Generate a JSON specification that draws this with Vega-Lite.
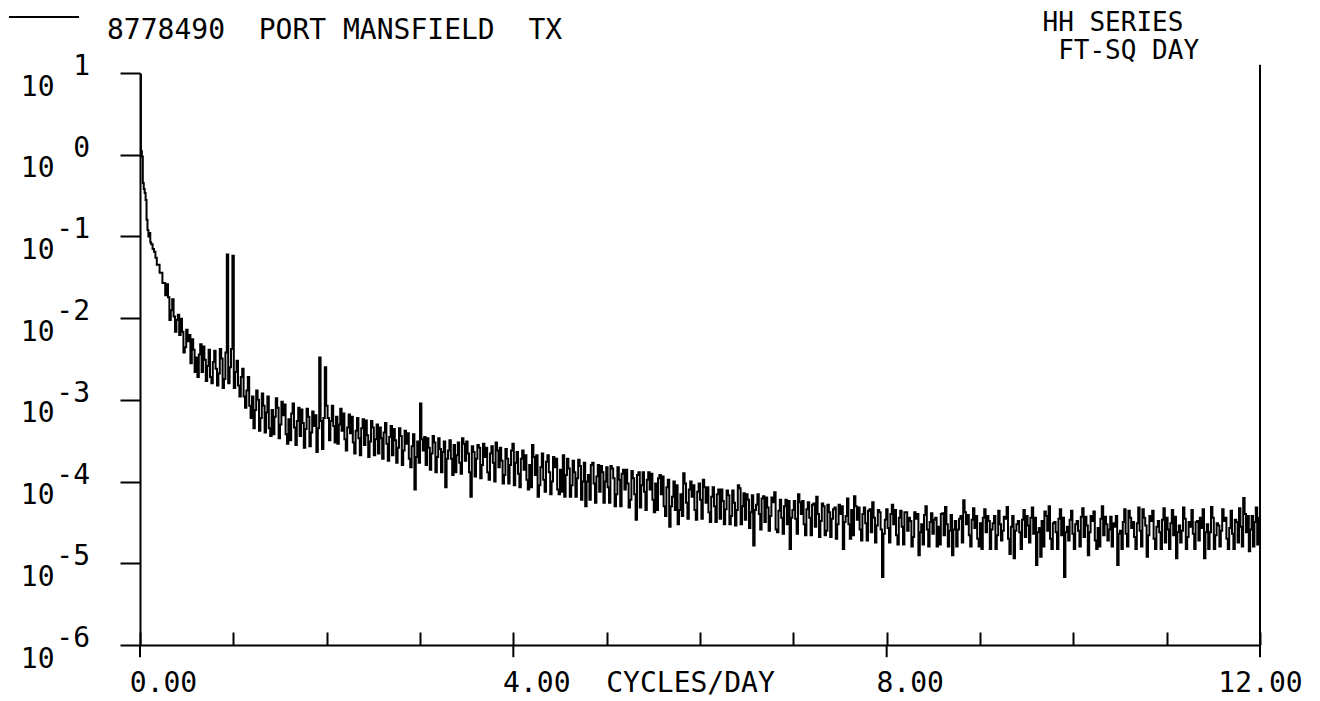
{
"$schema": "https://vega.github.io/schema/vega-lite/v6.json",
"width": 1120, "height": 572,
"autosize": {"type": "none"},
"padding": {"left": 140, "top": 73, "right": 60, "bottom": 56},
"background": "white",
"config": {"view": {"stroke": null}, "font": "DejaVu Sans Mono",
 "legend": {"symbolSize": 4900, "symbolStrokeWidth": 2, "symbolType": "stroke"}},
"datasets": {
"spec": [
{"f":0,"p":9.5},{"f":0.01,"p":1.1},{"f":0.02,"p":0.95},{"f":0.03,"p":0.45},{"f":0.04,"p":0.38},{"f":0.05,"p":0.34},{"f":0.06,"p":0.28},{"f":0.07,"p":0.16},{"f":0.08,"p":0.12},{"f":0.09,"p":0.1},{"f":0.1,"p":0.11},{"f":0.11,"p":0.085},{"f":0.12,"p":0.08},{"f":0.135,"p":0.07},{"f":0.15,"p":0.065},{"f":0.165,"p":0.055},{"f":0.18,"p":0.045},{"f":0.21,"p":0.036},{"f":0.24,"p":0.027},
{"f":0.27,"p":0.019},{"f":0.285,"p":0.026},{"f":0.3,"p":0.018},{"f":0.315,"p":0.0095},{"f":0.33,"p":0.0125},{"f":0.345,"p":0.017},{"f":0.36,"p":0.0105},{"f":0.375,"p":0.0068},{"f":0.39,"p":0.0095},{"f":0.405,"p":0.011},{"f":0.42,"p":0.0062},{"f":0.435,"p":0.0098},{"f":0.45,"p":0.0068},{"f":0.465,"p":0.0038},{"f":0.48,"p":0.0044},{"f":0.495,"p":0.0072},{"f":0.51,"p":0.0052},{"f":0.525,"p":0.0062},{"f":0.54,"p":0.0028},{"f":0.555,"p":0.0055},{"f":0.57,"p":0.0041},{"f":0.585,"p":0.0022},{"f":0.6,"p":0.0033},{"f":0.615,"p":0.0019},{"f":0.63,"p":0.0036},{"f":0.645,"p":0.0048},{"f":0.66,"p":0.0022},{"f":0.675,"p":0.0045},{"f":0.69,"p":0.0031},{"f":0.705,"p":0.0017},{"f":0.72,"p":0.0026},{"f":0.735,"p":0.0041},{"f":0.75,"p":0.0019},{"f":0.765,"p":0.0016},{"f":0.78,"p":0.0029},{"f":0.795,"p":0.004},{"f":0.81,"p":0.0024},{"f":0.825,"p":0.0015},{"f":0.84,"p":0.0021},{"f":0.855,"p":0.0042},{"f":0.87,"p":0.0032},{"f":0.885,"p":0.0014},{"f":0.9,"p":0.0018},{"f":0.915,"p":0.0038},{"f":0.93,"p":0.06},{"f":0.945,"p":0.0016},{"f":0.96,"p":0.0025},{"f":0.975,"p":0.0042},{"f":0.99,"p":0.058},{"f":1.005,"p":0.0014},{"f":1.02,"p":0.0022},{"f":1.035,"p":0.003},{"f":1.05,"p":0.0015},{"f":1.065,"p":0.0011},{"f":1.08,"p":0.0019},{"f":1.095,"p":0.0024},{"f":1.11,"p":0.0011},{"f":1.125,"p":8e-4},{"f":1.14,"p":0.0013},{"f":1.155,"p":0.0019},{"f":1.17,"p":8.5e-4},{"f":1.185,"p":6e-4},
{"f":1.2,"p":1.1e-3},{"f":1.215,"p":4.5e-4},{"f":1.23,"p":7.5e-4},{"f":1.245,"p":1.3e-3},{"f":1.26,"p":1.0e-3},{"f":1.275,"p":4.2e-4},{"f":1.29,"p":6.0e-4},{"f":1.305,"p":1.2e-3},{"f":1.32,"p":8.5e-4},{"f":1.335,"p":4.0e-4},{"f":1.35,"p":7.0e-4},{"f":1.365,"p":1.1e-3},{"f":1.38,"p":4.5e-4},{"f":1.395,"p":3.6e-4},{"f":1.41,"p":7.5e-4},{"f":1.425,"p":3.8e-4},{"f":1.44,"p":6.2e-4},{"f":1.455,"p":1.05e-3},{"f":1.47,"p":8.0e-4},{"f":1.485,"p":3.4e-4},{"f":1.5,"p":5.0e-4},{"f":1.515,"p":9.5e-4},{"f":1.53,"p":6.5e-4},{"f":1.545,"p":8.8e-4},{"f":1.56,"p":3.8e-4},{"f":1.575,"p":2.9e-4},{"f":1.59,"p":5.8e-4},{"f":1.605,"p":3.2e-4},{"f":1.62,"p":6.8e-4},{"f":1.635,"p":9.0e-4},{"f":1.65,"p":4.6e-4},{"f":1.665,"p":2.8e-4},{"f":1.68,"p":5.5e-4},{"f":1.695,"p":8.0e-4},{"f":1.71,"p":3.6e-4},{"f":1.725,"p":7.6e-4},{"f":1.74,"p":5.2e-4},{"f":1.755,"p":2.6e-4},{"f":1.77,"p":4.4e-4},{"f":1.785,"p":7.8e-4},{"f":1.8,"p":6.2e-4},{"f":1.815,"p":2.7e-4},{"f":1.83,"p":4.0e-4},{"f":1.845,"p":7.2e-4},{"f":1.86,"p":4.8e-4},{"f":1.875,"p":6.5e-4},{"f":1.89,"p":2.3e-4},{"f":1.905,"p":4.5e-4},{"f":1.92,"p":3.3e-3},{"f":1.935,"p":5.5e-4},{"f":1.95,"p":2.5e-4},{"f":1.965,"p":6.0e-4},{"f":1.98,"p":2.5e-3},{"f":1.995,"p":8.5e-4},
{"f":2.01,"p":6.0e-4},{"f":2.025,"p":3.2e-4},{"f":2.04,"p":5.5e-4},{"f":2.055,"p":8.5e-4},{"f":2.07,"p":4.8e-4},{"f":2.085,"p":3.0e-4},{"f":2.1,"p":6.2e-4},{"f":2.115,"p":2.9e-4},{"f":2.13,"p":5.0e-4},{"f":2.145,"p":7.8e-4},{"f":2.16,"p":4.2e-4},{"f":2.175,"p":6.8e-4},{"f":2.19,"p":3.3e-4},{"f":2.205,"p":2.4e-4},{"f":2.22,"p":4.6e-4},{"f":2.235,"p":6.6e-4},{"f":2.25,"p":3.9e-4},{"f":2.265,"p":6.2e-4},{"f":2.28,"p":3.0e-4},{"f":2.295,"p":2.2e-4},{"f":2.31,"p":4.2e-4},{"f":2.325,"p":6.0e-4},{"f":2.34,"p":3.4e-4},{"f":2.355,"p":2.1e-4},{"f":2.37,"p":4.5e-4},{"f":2.385,"p":5.8e-4},{"f":2.4,"p":2.8e-4},{"f":2.415,"p":5.6e-4},{"f":2.43,"p":3.7e-4},{"f":2.445,"p":2.0e-4},{"f":2.46,"p":3.1e-4},{"f":2.475,"p":5.5e-4},{"f":2.49,"p":4.6e-4},{"f":2.505,"p":2.1e-4},{"f":2.52,"p":3.3e-4},{"f":2.535,"p":5.0e-4},{"f":2.55,"p":2.2e-4},{"f":2.565,"p":4.6e-4},{"f":2.58,"p":3.4e-4},{"f":2.595,"p":1.9e-4},{"f":2.61,"p":4.0e-4},{"f":2.625,"p":5.2e-4},{"f":2.64,"p":2.9e-4},{"f":2.655,"p":1.8e-4},{"f":2.67,"p":3.5e-4},{"f":2.685,"p":4.8e-4},{"f":2.7,"p":2.1e-4},{"f":2.715,"p":4.4e-4},{"f":2.73,"p":3.2e-4},{"f":2.745,"p":1.7e-4},{"f":2.76,"p":2.6e-4},{"f":2.775,"p":4.5e-4},{"f":2.79,"p":3.6e-4},{"f":2.805,"p":1.6e-4},{"f":2.82,"p":2.4e-4},{"f":2.835,"p":4.2e-4},{"f":2.85,"p":2.9e-4},{"f":2.865,"p":3.9e-4},{"f":2.88,"p":1.9e-4},{"f":2.895,"p":1.5e-4},{"f":2.91,"p":2.7e-4},{"f":2.925,"p":3.8e-4},{"f":2.94,"p":8.0e-5},{"f":2.955,"p":2.0e-4},{"f":2.97,"p":3.1e-4},{"f":2.985,"p":1.7e-4},
{"f":3.0,"p":9.0e-4},{"f":3.015,"p":3.3e-4},{"f":3.03,"p":2.4e-4},{"f":3.045,"p":3.5e-4},{"f":3.06,"p":1.6e-4},{"f":3.075,"p":3.4e-4},{"f":3.09,"p":2.6e-4},{"f":3.105,"p":1.4e-4},{"f":3.12,"p":2.2e-4},{"f":3.135,"p":3.6e-4},{"f":3.15,"p":3.0e-4},{"f":3.165,"p":1.3e-4},{"f":3.18,"p":2.0e-4},{"f":3.195,"p":3.4e-4},{"f":3.21,"p":2.5e-4},{"f":3.225,"p":1.3e-4},{"f":3.24,"p":2.3e-4},{"f":3.255,"p":3.1e-4},{"f":3.27,"p":8.5e-5},{"f":3.285,"p":1.9e-4},{"f":3.3,"p":2.4e-4},{"f":3.315,"p":3.2e-4},{"f":3.33,"p":1.9e-4},{"f":3.345,"p":1.2e-4},{"f":3.36,"p":2.8e-4},{"f":3.375,"p":1.3e-4},{"f":3.39,"p":2.1e-4},{"f":3.405,"p":3.0e-4},{"f":3.42,"p":1.7e-4},{"f":3.435,"p":1.25e-4},{"f":3.45,"p":3.4e-4},{"f":3.465,"p":2.9e-4},{"f":3.48,"p":1.8e-4},{"f":3.495,"p":3.1e-4},{"f":3.51,"p":2.2e-4},{"f":3.525,"p":1.3e-4},{"f":3.54,"p":6.5e-5},{"f":3.555,"p":2.7e-4},{"f":3.57,"p":2.3e-4},{"f":3.585,"p":1.15e-4},{"f":3.6,"p":1.9e-4},{"f":3.615,"p":2.8e-4},{"f":3.63,"p":2.6e-4},{"f":3.645,"p":1.1e-4},{"f":3.66,"p":1.6e-4},{"f":3.675,"p":2.9e-4},{"f":3.69,"p":2.0e-4},{"f":3.705,"p":2.6e-4},{"f":3.72,"p":1.3e-4},{"f":3.735,"p":1.05e-4},{"f":3.75,"p":2.2e-4},{"f":3.765,"p":2.7e-4},{"f":3.78,"p":1.7e-4},{"f":3.795,"p":1.0e-4},{"f":3.81,"p":3.0e-4},{"f":3.825,"p":2.4e-4},{"f":3.84,"p":1.5e-4},{"f":3.855,"p":2.6e-4},{"f":3.87,"p":1.8e-4},{"f":3.885,"p":9.5e-5},{"f":3.9,"p":1.2e-4},{"f":3.915,"p":2.5e-4},{"f":3.93,"p":1.9e-4},{"f":3.945,"p":9.5e-5},{"f":3.96,"p":1.6e-4},{"f":3.975,"p":2.4e-4},{"f":3.99,"p":2.9e-4},{"f":4.005,"p":9.0e-5},
{"f":4.02,"p":1.7e-4},{"f":4.035,"p":2.3e-4},{"f":4.05,"p":1.25e-4},{"f":4.065,"p":8.5e-5},{"f":4.08,"p":1.9e-4},{"f":4.095,"p":2.4e-4},{"f":4.11,"p":1.4e-4},{"f":4.125,"p":2.1e-4},{"f":4.14,"p":1.05e-4},{"f":4.155,"p":8.0e-5},{"f":4.17,"p":1.6e-4},{"f":4.185,"p":8.5e-5},{"f":4.2,"p":2.8e-4},{"f":4.215,"p":2.0e-4},{"f":4.23,"p":1.2e-4},{"f":4.245,"p":2.1e-4},{"f":4.26,"p":6.5e-5},{"f":4.275,"p":9.0e-5},{"f":4.29,"p":1.5e-4},{"f":4.305,"p":2.2e-4},{"f":4.32,"p":1.05e-4},{"f":4.335,"p":7.5e-5},{"f":4.35,"p":1.75e-4},{"f":4.365,"p":2.1e-4},{"f":4.38,"p":1.3e-4},{"f":4.395,"p":7.0e-5},{"f":4.41,"p":1.0e-4},{"f":4.425,"p":2.0e-4},{"f":4.44,"p":1.5e-4},{"f":4.455,"p":1.9e-4},{"f":4.47,"p":8.0e-5},{"f":4.485,"p":7.0e-5},{"f":4.5,"p":1.4e-4},{"f":4.515,"p":7.5e-5},{"f":4.53,"p":2.1e-4},{"f":4.545,"p":6.5e-5},{"f":4.56,"p":1.2e-4},{"f":4.575,"p":1.9e-4},{"f":4.59,"p":1.45e-4},{"f":4.605,"p":6.5e-5},{"f":4.62,"p":9.0e-5},{"f":4.635,"p":1.8e-4},{"f":4.65,"p":1.3e-4},{"f":4.665,"p":6.5e-5},{"f":4.68,"p":1.1e-4},{"f":4.695,"p":1.85e-4},{"f":4.71,"p":1.55e-4},{"f":4.725,"p":6.0e-5},{"f":4.74,"p":1.0e-4},{"f":4.755,"p":1.7e-4},{"f":4.77,"p":5.0e-5},{"f":4.785,"p":1.0e-4},{"f":4.8,"p":1.2e-4},{"f":4.815,"p":6.0e-5},{"f":4.83,"p":1.6e-4},{"f":4.845,"p":1.7e-4},{"f":4.86,"p":9.5e-5},{"f":4.875,"p":5.5e-5},{"f":4.89,"p":1.15e-4},{"f":4.905,"p":1.6e-4},{"f":4.92,"p":7.5e-5},{"f":4.935,"p":1.55e-4},{"f":4.95,"p":1.3e-4},{"f":4.965,"p":5.5e-5},{"f":4.98,"p":1.0e-4},{"f":4.995,"p":1.5e-4},
{"f":5.01,"p":8.5e-5},{"f":5.025,"p":5.5e-5},{"f":5.04,"p":1.55e-4},{"f":5.055,"p":1.45e-4},{"f":5.07,"p":1.1e-4},{"f":5.085,"p":5.0e-5},{"f":5.1,"p":7.0e-5},{"f":5.115,"p":1.5e-4},{"f":5.13,"p":1.05e-4},{"f":5.145,"p":5.0e-5},{"f":5.16,"p":1.25e-4},{"f":5.175,"p":1.4e-4},{"f":5.19,"p":8.0e-5},{"f":5.205,"p":1.4e-4},{"f":5.22,"p":9.5e-5},{"f":5.235,"p":4.8e-5},{"f":5.25,"p":6.0e-5},{"f":5.265,"p":1.35e-4},{"f":5.28,"p":1.1e-4},{"f":5.295,"p":7.0e-5},{"f":5.31,"p":3.4e-5},{"f":5.325,"p":1.2e-4},{"f":5.34,"p":1.3e-4},{"f":5.355,"p":4.8e-5},{"f":5.37,"p":9.0e-5},{"f":5.385,"p":1.3e-4},{"f":5.4,"p":7.5e-5},{"f":5.415,"p":4.5e-5},{"f":5.43,"p":1.05e-4},{"f":5.445,"p":1.3e-4},{"f":5.46,"p":8.0e-5},{"f":5.475,"p":1.25e-4},{"f":5.49,"p":6.0e-5},{"f":5.505,"p":4.2e-5},{"f":5.52,"p":9.5e-5},{"f":5.535,"p":4.5e-5},{"f":5.55,"p":1.1e-4},{"f":5.565,"p":1.2e-4},{"f":5.58,"p":7.0e-5},{"f":5.595,"p":1.15e-4},{"f":5.61,"p":5.0e-5},{"f":5.625,"p":3.8e-5},{"f":5.64,"p":8.5e-5},{"f":5.655,"p":1.05e-4},{"f":5.67,"p":2.8e-5},{"f":5.685,"p":5.0e-5},{"f":5.7,"p":6.5e-5},{"f":5.715,"p":1.0e-4},{"f":5.73,"p":4.5e-5},{"f":5.745,"p":9.0e-5},{"f":5.76,"p":3.0e-5},{"f":5.775,"p":4.5e-5},{"f":5.79,"p":7.0e-5},{"f":5.805,"p":3.8e-5},{"f":5.82,"p":1.26e-4},{"f":5.835,"p":9.5e-5},{"f":5.85,"p":5.5e-5},{"f":5.865,"p":3.5e-5},{"f":5.88,"p":8.0e-5},{"f":5.895,"p":1.0e-4},{"f":5.91,"p":6.5e-5},{"f":5.925,"p":9.0e-5},{"f":5.94,"p":4.5e-5},{"f":5.955,"p":3.4e-5},{"f":5.97,"p":7.5e-5},{"f":5.985,"p":9.5e-5},
{"f":6.0,"p":6.0e-5},{"f":6.015,"p":3.5e-5},{"f":6.03,"p":1.05e-4},{"f":6.045,"p":8.5e-5},{"f":6.06,"p":5.5e-5},{"f":6.075,"p":8.5e-5},{"f":6.09,"p":4.2e-5},{"f":6.105,"p":3.2e-5},{"f":6.12,"p":6.5e-5},{"f":6.135,"p":8.5e-5},{"f":6.15,"p":5.0e-5},{"f":6.165,"p":3.2e-5},{"f":6.18,"p":7.0e-5},{"f":6.195,"p":8.0e-5},{"f":6.21,"p":3.5e-5},{"f":6.225,"p":8.0e-5},{"f":6.24,"p":5.8e-5},{"f":6.255,"p":3.0e-5},{"f":6.27,"p":4.6e-5},{"f":6.285,"p":7.8e-5},{"f":6.3,"p":6.8e-5},{"f":6.315,"p":3.0e-5},{"f":6.33,"p":3.8e-5},{"f":6.345,"p":7.8e-5},{"f":6.36,"p":5.5e-5},{"f":6.375,"p":2.9e-5},{"f":6.39,"p":4.5e-5},{"f":6.405,"p":9.0e-5},{"f":6.42,"p":8.3e-5},{"f":6.435,"p":3.0e-5},{"f":6.45,"p":5.0e-5},{"f":6.465,"p":7.2e-5},{"f":6.48,"p":3.4e-5},{"f":6.495,"p":7.0e-5},{"f":6.51,"p":6.0e-5},{"f":6.525,"p":2.7e-5},{"f":6.54,"p":4.2e-5},{"f":6.555,"p":6.8e-5},{"f":6.57,"p":1.65e-5},{"f":6.585,"p":4.5e-5},{"f":6.6,"p":5.2e-5},{"f":6.615,"p":7.0e-5},{"f":6.63,"p":4.0e-5},{"f":6.645,"p":2.6e-5},{"f":6.66,"p":6.2e-5},{"f":6.675,"p":6.6e-5},{"f":6.69,"p":3.2e-5},{"f":6.705,"p":6.4e-5},{"f":6.72,"p":4.8e-5},{"f":6.735,"p":2.5e-5},{"f":6.75,"p":3.8e-5},{"f":6.765,"p":6.4e-5},{"f":6.78,"p":5.6e-5},{"f":6.795,"p":7.4e-5},{"f":6.81,"p":2.6e-5},{"f":6.825,"p":2.4e-5},{"f":6.84,"p":4.4e-5},{"f":6.855,"p":6.0e-5},{"f":6.87,"p":3.6e-5},{"f":6.885,"p":2.3e-5},{"f":6.9,"p":5.0e-5},{"f":6.915,"p":6.0e-5},{"f":6.93,"p":3.0e-5},{"f":6.945,"p":5.8e-5},{"f":6.96,"p":1.5e-5},{"f":6.975,"p":3.6e-5},{"f":6.99,"p":4.5e-5},{"f":7.005,"p":5.8e-5},
{"f":7.02,"p":3.5e-5},{"f":7.035,"p":2.3e-5},{"f":7.05,"p":7.0e-5},{"f":7.065,"p":5.6e-5},{"f":7.08,"p":4.0e-5},{"f":7.095,"p":5.8e-5},{"f":7.11,"p":3.0e-5},{"f":7.125,"p":2.2e-5},{"f":7.14,"p":4.6e-5},{"f":7.155,"p":5.6e-5},{"f":7.17,"p":3.6e-5},{"f":7.185,"p":2.2e-5},{"f":7.2,"p":5.2e-5},{"f":7.215,"p":5.4e-5},{"f":7.23,"p":2.8e-5},{"f":7.245,"p":6.5e-5},{"f":7.26,"p":4.0e-5},{"f":7.275,"p":2.1e-5},{"f":7.29,"p":3.3e-5},{"f":7.305,"p":5.4e-5},{"f":7.32,"p":5.0e-5},{"f":7.335,"p":2.2e-5},{"f":7.35,"p":2.5e-5},{"f":7.365,"p":5.2e-5},{"f":7.38,"p":4.2e-5},{"f":7.395,"p":2.1e-5},{"f":7.41,"p":3.5e-5},{"f":7.425,"p":4.6e-5},{"f":7.44,"p":4.8e-5},{"f":7.455,"p":2.0e-5},{"f":7.47,"p":3.0e-5},{"f":7.485,"p":5.2e-5},{"f":7.5,"p":4.0e-5},{"f":7.515,"p":5.0e-5},{"f":7.53,"p":1.5e-5},{"f":7.545,"p":3.2e-5},{"f":7.56,"p":3.8e-5},{"f":7.575,"p":6.2e-5},{"f":7.59,"p":3.0e-5},{"f":7.605,"p":2.0e-5},{"f":7.62,"p":4.5e-5},{"f":7.635,"p":2.2e-5},{"f":7.65,"p":6.6e-5},{"f":7.665,"p":5.0e-5},{"f":7.68,"p":3.4e-5},{"f":7.695,"p":4.8e-5},{"f":7.71,"p":2.6e-5},{"f":7.725,"p":1.9e-5},{"f":7.74,"p":4.0e-5},{"f":7.755,"p":4.8e-5},{"f":7.77,"p":3.1e-5},{"f":7.785,"p":1.9e-5},{"f":7.8,"p":4.4e-5},{"f":7.815,"p":4.6e-5},{"f":7.83,"p":2.4e-5},{"f":7.845,"p":5.6e-5},{"f":7.86,"p":3.6e-5},{"f":7.875,"p":1.8e-5},{"f":7.89,"p":2.9e-5},{"f":7.905,"p":4.5e-5},{"f":7.92,"p":4.2e-5},{"f":7.935,"p":2.6e-5},{"f":7.95,"p":6.8e-6},{"f":7.965,"p":2.3e-5},{"f":7.98,"p":3.4e-5},{"f":7.995,"p":4.6e-5},
{"f":8.01,"p":2.7e-5},{"f":8.025,"p":1.8e-5},{"f":8.04,"p":4.0e-5},{"f":8.055,"p":5.2e-5},{"f":8.07,"p":3.0e-5},{"f":8.085,"p":4.5e-5},{"f":8.1,"p":2.2e-5},{"f":8.115,"p":1.7e-5},{"f":8.13,"p":3.6e-5},{"f":8.145,"p":4.4e-5},{"f":8.16,"p":2.8e-5},{"f":8.175,"p":1.7e-5},{"f":8.19,"p":4.2e-5},{"f":8.205,"p":4.2e-5},{"f":8.22,"p":2.5e-5},{"f":8.235,"p":3.6e-5},{"f":8.25,"p":3.3e-5},{"f":8.265,"p":1.6e-5},{"f":8.28,"p":2.1e-5},{"f":8.295,"p":4.2e-5},{"f":8.31,"p":3.5e-5},{"f":8.325,"p":4.0e-5},{"f":8.34,"p":1.25e-5},{"f":8.355,"p":2.4e-5},{"f":8.37,"p":3.0e-5},{"f":8.385,"p":1.7e-5},{"f":8.4,"p":3.9e-5},{"f":8.415,"p":5.0e-5},{"f":8.43,"p":2.6e-5},{"f":8.445,"p":1.6e-5},{"f":8.46,"p":3.2e-5},{"f":8.475,"p":4.1e-5},{"f":8.49,"p":2.3e-5},{"f":8.505,"p":3.4e-5},{"f":8.52,"p":3.6e-5},{"f":8.535,"p":1.6e-5},{"f":8.55,"p":2.8e-5},{"f":8.565,"p":1.7e-5},{"f":8.58,"p":4.0e-5},{"f":8.595,"p":4.1e-5},{"f":8.61,"p":2.2e-5},{"f":8.625,"p":4.9e-5},{"f":8.64,"p":3.0e-5},{"f":8.655,"p":1.6e-5},{"f":8.67,"p":2.5e-5},{"f":8.685,"p":3.9e-5},{"f":8.7,"p":1.25e-5},{"f":8.715,"p":2.6e-5},{"f":8.73,"p":3.3e-5},{"f":8.745,"p":1.6e-5},{"f":8.76,"p":2.6e-5},{"f":8.775,"p":3.5e-5},{"f":8.79,"p":3.8e-5},{"f":8.805,"p":1.8e-5},{"f":8.82,"p":5.9e-5},{"f":8.835,"p":4.2e-5},{"f":8.85,"p":3.0e-5},{"f":8.865,"p":3.9e-5},{"f":8.88,"p":2.2e-5},{"f":8.895,"p":1.6e-5},{"f":8.91,"p":3.4e-5},{"f":8.925,"p":4.7e-5},{"f":8.94,"p":2.7e-5},{"f":8.955,"p":3.8e-5},{"f":8.97,"p":2.0e-5},{"f":8.985,"p":1.6e-5},
{"f":9.0,"p":3.1e-5},{"f":9.015,"p":1.5e-5},{"f":9.03,"p":3.6e-5},{"f":9.045,"p":4.6e-5},{"f":9.06,"p":2.4e-5},{"f":9.075,"p":3.8e-5},{"f":9.09,"p":3.3e-5},{"f":9.105,"p":1.5e-5},{"f":9.12,"p":2.6e-5},{"f":9.135,"p":3.1e-5},{"f":9.15,"p":3.8e-5},{"f":9.165,"p":1.5e-5},{"f":9.18,"p":2.2e-5},{"f":9.195,"p":4.4e-5},{"f":9.21,"p":3.0e-5},{"f":9.225,"p":1.9e-5},{"f":9.24,"p":2.5e-5},{"f":9.255,"p":3.7e-5},{"f":9.27,"p":3.5e-5},{"f":9.285,"p":4.9e-5},{"f":9.3,"p":2.0e-5},{"f":9.315,"p":1.3e-5},{"f":9.33,"p":2.8e-5},{"f":9.345,"p":3.8e-5},{"f":9.36,"p":1.15e-5},{"f":9.375,"p":2.5e-5},{"f":9.39,"p":3.0e-5},{"f":9.405,"p":3.3e-5},{"f":9.42,"p":2.4e-5},{"f":9.435,"p":1.5e-5},{"f":9.45,"p":3.4e-5},{"f":9.465,"p":4.5e-5},{"f":9.48,"p":2.1e-5},{"f":9.495,"p":3.8e-5},{"f":9.51,"p":2.9e-5},{"f":9.525,"p":1.8e-5},{"f":9.54,"p":3.6e-5},{"f":9.555,"p":4.8e-5},{"f":9.57,"p":2.3e-5},{"f":9.585,"p":3.6e-5},{"f":9.6,"p":9.5e-6},{"f":9.615,"p":2.4e-5},{"f":9.63,"p":2.7e-5},{"f":9.645,"p":1.2e-5},{"f":9.66,"p":3.3e-5},{"f":9.675,"p":1.6e-5},{"f":9.69,"p":4.3e-5},{"f":9.705,"p":3.8e-5},{"f":9.72,"p":2.5e-5},{"f":9.735,"p":5.0e-5},{"f":9.75,"p":2.0e-5},{"f":9.765,"p":1.5e-5},{"f":9.78,"p":3.1e-5},{"f":9.795,"p":3.2e-5},{"f":9.81,"p":2.4e-5},{"f":9.825,"p":1.5e-5},{"f":9.84,"p":3.5e-5},{"f":9.855,"p":4.6e-5},{"f":9.87,"p":2.2e-5},{"f":9.885,"p":3.6e-5},{"f":9.9,"p":6.8e-6},{"f":9.915,"p":2.4e-5},{"f":9.93,"p":2.8e-5},{"f":9.945,"p":1.9e-5},{"f":9.96,"p":3.4e-5},{"f":9.975,"p":4.4e-5},{"f":9.99,"p":2.3e-5},{"f":10.005,"p":1.5e-5},
{"f":10.02,"p":3.0e-5},{"f":10.035,"p":3.3e-5},{"f":10.05,"p":2.5e-5},{"f":10.065,"p":1.6e-5},{"f":10.08,"p":3.7e-5},{"f":10.095,"p":4.7e-5},{"f":10.11,"p":2.1e-5},{"f":10.125,"p":3.7e-5},{"f":10.14,"p":2.9e-5},{"f":10.155,"p":1.25e-5},{"f":10.17,"p":2.4e-5},{"f":10.185,"p":3.8e-5},{"f":10.2,"p":3.3e-5},{"f":10.215,"p":4.3e-5},{"f":10.23,"p":1.9e-5},{"f":10.245,"p":1.5e-5},{"f":10.26,"p":2.7e-5},{"f":10.275,"p":1.6e-5},{"f":10.29,"p":3.5e-5},{"f":10.305,"p":5.0e-5},{"f":10.32,"p":2.2e-5},{"f":10.335,"p":3.7e-5},{"f":10.35,"p":3.0e-5},{"f":10.365,"p":1.9e-5},{"f":10.38,"p":2.6e-5},{"f":10.395,"p":3.7e-5},{"f":10.41,"p":1.6e-5},{"f":10.425,"p":3.1e-5},{"f":10.44,"p":2.8e-5},{"f":10.455,"p":3.8e-5},{"f":10.47,"p":9.5e-6},{"f":10.485,"p":2.3e-5},{"f":10.5,"p":2.5e-5},{"f":10.515,"p":1.5e-5},{"f":10.53,"p":3.2e-5},{"f":10.545,"p":4.6e-5},{"f":10.56,"p":2.3e-5},{"f":10.575,"p":1.6e-5},{"f":10.59,"p":4.4e-5},{"f":10.605,"p":3.6e-5},{"f":10.62,"p":2.7e-5},{"f":10.635,"p":3.2e-5},{"f":10.65,"p":2.1e-5},{"f":10.665,"p":1.5e-5},{"f":10.68,"p":3.1e-5},{"f":10.695,"p":4.8e-5},{"f":10.71,"p":2.5e-5},{"f":10.725,"p":1.6e-5},{"f":10.74,"p":4.6e-5},{"f":10.755,"p":3.6e-5},{"f":10.77,"p":2.9e-5},{"f":10.785,"p":1.2e-5},{"f":10.8,"p":2.2e-5},{"f":10.815,"p":3.8e-5},{"f":10.83,"p":3.3e-5},{"f":10.845,"p":4.4e-5},{"f":10.86,"p":2.0e-5},{"f":10.875,"p":1.5e-5},{"f":10.89,"p":2.8e-5},{"f":10.905,"p":3.3e-5},{"f":10.92,"p":2.4e-5},{"f":10.935,"p":1.5e-5},{"f":10.95,"p":3.4e-5},{"f":10.965,"p":4.7e-5},{"f":10.98,"p":1.8e-5},{"f":10.995,"p":3.6e-5},
{"f":11.01,"p":2.6e-5},{"f":11.025,"p":1.5e-5},{"f":11.04,"p":3.1e-5},{"f":11.055,"p":4.5e-5},{"f":11.07,"p":2.2e-5},{"f":11.085,"p":3.7e-5},{"f":11.1,"p":1.15e-5},{"f":11.115,"p":2.4e-5},{"f":11.13,"p":2.9e-5},{"f":11.145,"p":1.8e-5},{"f":11.16,"p":2.5e-5},{"f":11.175,"p":4.8e-5},{"f":11.19,"p":3.5e-5},{"f":11.205,"p":1.5e-5},{"f":11.22,"p":2.1e-5},{"f":11.235,"p":3.2e-5},{"f":11.25,"p":2.8e-5},{"f":11.265,"p":4.5e-5},{"f":11.28,"p":2.3e-5},{"f":11.295,"p":1.5e-5},{"f":11.31,"p":3.2e-5},{"f":11.325,"p":3.3e-5},{"f":11.34,"p":1.9e-5},{"f":11.355,"p":3.6e-5},{"f":11.37,"p":2.7e-5},{"f":11.385,"p":4.6e-5},{"f":11.4,"p":1.15e-5},{"f":11.415,"p":2.4e-5},{"f":11.43,"p":3.0e-5},{"f":11.445,"p":1.5e-5},{"f":11.46,"p":2.4e-5},{"f":11.475,"p":4.9e-5},{"f":11.49,"p":3.6e-5},{"f":11.505,"p":1.5e-5},{"f":11.52,"p":2.2e-5},{"f":11.535,"p":3.1e-5},{"f":11.55,"p":2.9e-5},{"f":11.565,"p":1.6e-5},{"f":11.58,"p":2.5e-5},{"f":11.595,"p":4.6e-5},{"f":11.61,"p":3.3e-5},{"f":11.625,"p":3.6e-5},{"f":11.64,"p":2.0e-5},{"f":11.655,"p":1.5e-5},{"f":11.67,"p":2.7e-5},{"f":11.685,"p":4.4e-5},{"f":11.7,"p":2.3e-5},{"f":11.715,"p":1.5e-5},{"f":11.73,"p":3.4e-5},{"f":11.745,"p":3.2e-5},{"f":11.76,"p":1.8e-5},{"f":11.775,"p":4.7e-5},{"f":11.79,"p":2.8e-5},{"f":11.805,"p":1.6e-5},{"f":11.82,"p":6.3e-5},{"f":11.835,"p":4.0e-5},{"f":11.85,"p":2.4e-5},{"f":11.865,"p":3.8e-5},{"f":11.88,"p":1.4e-5},{"f":11.895,"p":2.6e-5},{"f":11.91,"p":3.8e-5},{"f":11.925,"p":1.6e-5},{"f":11.94,"p":3.2e-5},{"f":11.955,"p":4.8e-5},{"f":11.97,"p":1.7e-5},{"f":11.985,"p":3.6e-5},{"f":12.0,"p":2.5e-5}
],
"exps": [
{"v":10,"e":"1"},{"v":1,"e":"0"},{"v":0.1,"e":"-1"},{"v":0.01,"e":"-2"},{"v":0.001,"e":"-3"},{"v":0.0001,"e":"-4"},{"v":0.00001,"e":"-5"},{"v":0.000001,"e":"-6"}
],
"edge": [{"f": 12, "lo": 0.000001, "hi": 12.6}],
"majors": [{"f": 0, "lo": 0.000001, "hi": 7.1e-7}, {"f": 4, "lo": 0.000001, "hi": 7.1e-7}, {"f": 8, "lo": 0.000001, "hi": 7.1e-7}, {"f": 12, "lo": 0.000001, "hi": 7.1e-7}]
},
"layer": [
{
 "data": {"name": "spec"},
 "mark": {"type": "line", "interpolate": "step-after", "strokeWidth": 2, "clip": true},
 "encoding": {
  "x": {"field": "f", "type": "quantitative",
   "scale": {"domain": [0, 12], "nice": false, "zero": false},
   "axis": {"values": [0,1,2,3,4,5,6,7,8,9,10,11,12],
    "labelExpr": "datum.value % 4 === 0 ? format(datum.value, '.2f') : ''",
    "tickSize": -13, "tickWidth": 2, "tickColor": "black",
    "domainColor": "black", "domainWidth": 2, "grid": false,
    "labelFont": "DejaVu Sans Mono", "labelFontSize": 28, "labelColor": "black",
    "labelPadding": 51, "labelBaseline": "middle", "labelAlign": "center",
    "labelOffset": {"condition": {"test": "datum.value === 12", "value": 0}, "value": 23},
    "labelFlush": false, "labelOverlap": false, "labelBound": false,
    "title": "CYCLES/DAY", "titleX": 550, "titleY": 38, "titleAlign": "center", "titleBaseline": "middle",
    "titleFont": "DejaVu Sans Mono", "titleFontSize": 28, "titleFontWeight": "normal", "titleColor": "black"
   }},
  "y": {"field": "p", "type": "quantitative",
   "scale": {"type": "log", "domain": [0.000001, 10], "nice": false},
   "axis": {"values": [0.000001, 0.00001, 0.0001, 0.001, 0.01, 0.1, 1, 10],
    "labelExpr": "'10'",
    "tickSize": 20, "tickWidth": 2, "tickColor": "black",
    "domainColor": "black", "domainWidth": 2, "grid": false,
    "labelFont": "DejaVu Sans Mono", "labelFontSize": 28, "labelColor": "black",
    "labelPadding": 66, "labelAlign": "right", "labelBaseline": "middle", "labelOffset": 14,
    "labelFlush": false, "labelOverlap": false, "labelBound": false,
    "title": ["HH SERIES", "\u200b\u00a0FT-SQ DAY"], "titleAngle": 0, "titleX": 902, "titleY": -64,
    "titleAlign": "left", "titleBaseline": "top", "titleLineHeight": 28,
    "titleFont": "DejaVu Sans Mono", "titleFontSize": 26, "titleFontWeight": "normal", "titleColor": "black"
   }},
  "color": {"datum": "8778490\u00a0\u00a0PORT MANSFIELD\u00a0\u00a0TX", "type": "nominal",
   "scale": {"range": ["black"]},
   "legend": {"orient": "none", "legendX": -132, "legendY": -92, "title": null, "padding": 0,
    "symbolType": "stroke", "symbolSize": 4900, "symbolStrokeWidth": 2, "symbolStrokeColor": "black",
    "labelFont": "DejaVu Sans Mono", "labelFontSize": 28, "labelColor": "black", "labelOffset": 27, "labelLimit": 0,
    "labelBaseline": "top"}}
 }
},
{
 "data": {"name": "exps"},
 "mark": {"type": "text", "align": "right", "baseline": "middle", "dx": -50, "dy": -6, "fontSize": 28, "font": "DejaVu Sans Mono", "color": "black"},
 "encoding": {
  "x": {"datum": 0, "type": "quantitative"},
  "y": {"field": "v", "type": "quantitative"},
  "text": {"field": "e"}
 }
},
{
 "data": {"name": "edge"},
 "mark": {"type": "rule", "strokeWidth": 2, "color": "black"},
 "encoding": {
  "x": {"field": "f", "type": "quantitative"},
  "y": {"field": "lo", "type": "quantitative"},
  "y2": {"field": "hi"}
 }
},
{
 "data": {"name": "majors"},
 "mark": {"type": "rule", "strokeWidth": 2, "color": "black"},
 "encoding": {
  "x": {"field": "f", "type": "quantitative"},
  "y": {"field": "lo", "type": "quantitative"},
  "y2": {"field": "hi"}
 }
}
]
}
